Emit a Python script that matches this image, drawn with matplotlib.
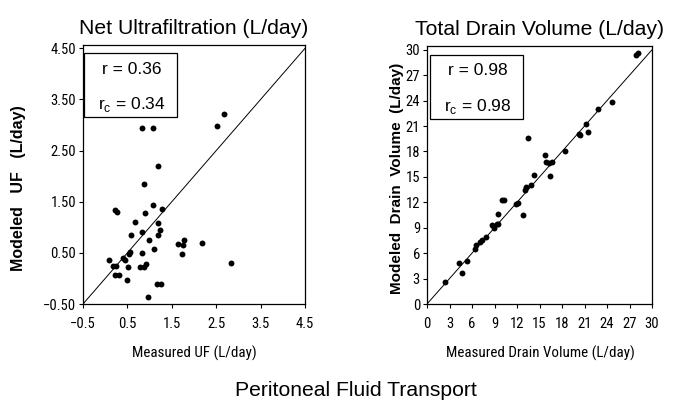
import matplotlib
matplotlib.use("Agg")
import matplotlib.pyplot as plt
from matplotlib.patches import Rectangle

uf_measured = [0.08, 0.17, 0.25, 0.22, 0.30, 0.22, 0.26, 0.39, 0.44, 0.48, 0.51, 0.54, 0.56, 0.59,
               0.67, 0.79, 0.83, 0.83, 0.88, 0.91, 0.83, 1.08, 0.87, 0.89, 0.97, 0.98, 1.08, 1.11,
               1.16, 1.25, 1.18, 1.18, 1.24, 1.27, 1.20, 1.64, 1.73, 1.76, 1.78, 2.18, 2.51, 2.68, 2.84]
uf_modeled = [0.36, 0.24, 0.25, 0.07, 0.07, 1.33, 1.30, 0.40, 0.37, -0.03, 0.23, 0.48, 0.51, 0.84,
              1.11, 0.22, 0.50, 0.91, 0.22, 0.28, 2.94, 2.94, 1.85, 1.27, -0.37, 0.76, 1.43, 0.57,
              -0.10, -0.11, 1.08, 0.85, 0.94, 1.35, 2.19, 0.68, 0.48, 0.66, 0.76, 0.70, 2.98, 3.21, 0.30]

dv_measured = [2.45, 4.32, 4.67, 5.38, 6.36, 6.54, 7.12, 7.39, 7.92, 8.63, 8.99, 9.30, 9.48, 9.48,
               10.00, 10.28, 11.93, 12.15, 12.86, 13.08, 13.26, 13.80, 13.44, 14.24, 15.75, 15.84,
               16.33, 16.42, 16.73, 18.42, 20.25, 20.43, 21.14, 21.45, 22.83, 24.70, 27.90, 28.08]
dv_modeled = [2.64, 4.78, 3.63, 5.13, 6.47, 6.95, 7.26, 7.58, 7.90, 9.36, 8.96, 9.40, 9.40, 10.66,
              12.24, 12.24, 11.84, 11.96, 10.50, 13.50, 13.82, 14.05, 19.54, 15.24, 17.53, 16.74,
              16.66, 15.08, 16.74, 18.08, 20.05, 19.98, 21.24, 20.25, 23.06, 23.85, 29.33, 29.57]

uf_ticks = [-0.5, 0.5, 1.5, 2.5, 3.5, 4.5]
uf_xlabels = ["\u22120.5", "0.5", "1.5", "2.5", "3.5", "4.5"]
uf_ylabels = ["\u22120.50", "0.50", "1.50", "2.50", "3.50", "4.50"]
dv_ticks = [0, 3, 6, 9, 12, 15, 18, 21, 24, 27, 30]

titles = ["Net Ultrafiltration (L/day)", "Total Drain Volume (L/day)"]
xlabels = ["Measured UF (L/day)", "Measured Drain Volume (L/day)"]
ylabels = ["Modeled   UF   (L/day)", "Modeled  Drain  Volume  (L/day)"]
stats = [("0.36", "0.34"), ("0.98", "0.98")]
suptitle = "Peritoneal Fluid Transport"

narrow = ["Roboto Condensed", "DejaVu Sans"]
plt.rcParams["font.family"] = ["Liberation Sans", "DejaVu Sans"]

fig = plt.figure(figsize=(6.77, 4.03), dpi=100)
W, H = 677, 403

def fx(px):
    return px / W

def fy(py):
    return 1 - py / H

def ax_at(l, r, t, b):
    return fig.add_axes([fx(l), fy(b), (r - l) / W, (b - t) / H])

ax1 = ax_at(83, 305, 45, 304)
ax2 = ax_at(427, 652, 46, 304)

ax1.scatter(uf_measured, uf_modeled, s=18, color="black", zorder=3, linewidths=0)
ax1.plot([-0.5, 4.5], [-0.5, 4.5], color="black", lw=0.7)
ax1.set_xlim(-0.5, 4.5)
ax1.set_ylim(-0.5, 4.565)
ax1.set_xticks(uf_ticks)
ax1.set_xticklabels(uf_xlabels)
ax1.set_yticks(uf_ticks)
ax1.set_yticklabels(uf_ylabels)

ax2.scatter(dv_measured, dv_modeled, s=18, color="black", zorder=3, linewidths=0)
ax2.plot([0, 30], [0, 30], color="black", lw=0.7)
ax2.set_xlim(0, 30)
ax2.set_ylim(0, 30.45)
ax2.set_xticks(dv_ticks)
ax2.set_yticks(dv_ticks)

for i, ax in enumerate([ax1, ax2]):
    for sp in ax.spines.values():
        sp.set_linewidth(0.9)
        sp.set_color("black")
    ax.tick_params(direction="out", length=3, width=0.8, labelsize=10.5)
    ax.tick_params(axis="x", pad=6)
    ax.tick_params(axis="y", pad=2)
    for lab in ax.get_xticklabels() + ax.get_yticklabels():
        lab.set_family(narrow)
    ax.set_title(titles[i], fontsize=15.2, pad=8)

# axis labels
fig.text(fx(194), fy(353), xlabels[0], ha="center", va="center", fontsize=10.8, family=narrow)
fig.text(fx(540), fy(353), xlabels[1], ha="center", va="center", fontsize=10.8, family=narrow)
fig.text(fx(18.5), fy(188), ylabels[0], ha="center", va="center", rotation=90,
         fontsize=11.5, fontweight="bold")
fig.text(fx(397), fy(178), ylabels[1], ha="center", va="center", rotation=90,
         fontsize=11, fontweight="bold")

# stat boxes
boxes = [(84, 177, 53, 117), (430, 523, 55, 119)]
baselines = [(73.5, 109.5), (75, 111.5)]
for (l, r, t, b), (y1, y2), (rv, rcv) in zip(boxes, baselines, stats):
    fig.patches.append(Rectangle((fx(l), fy(b)), (r - l) / W, (b - t) / H, transform=fig.transFigure,
                                 fill=False, edgecolor="black", lw=0.9, zorder=5))
    cx = fx((l + r) / 2 + 1)
    fig.text(cx, fy(y1), f"r = {rv}", ha="center", va="baseline", fontsize=12.5)
    fig.text(cx, fy(y2), f"r$_\\mathregular{{c}}$ = {rcv}", ha="center", va="baseline", fontsize=12.5)

fig.text(fx(356), fy(396), suptitle, ha="center", va="baseline", fontsize=15.2)

fig.savefig("out.png", dpi=100)
